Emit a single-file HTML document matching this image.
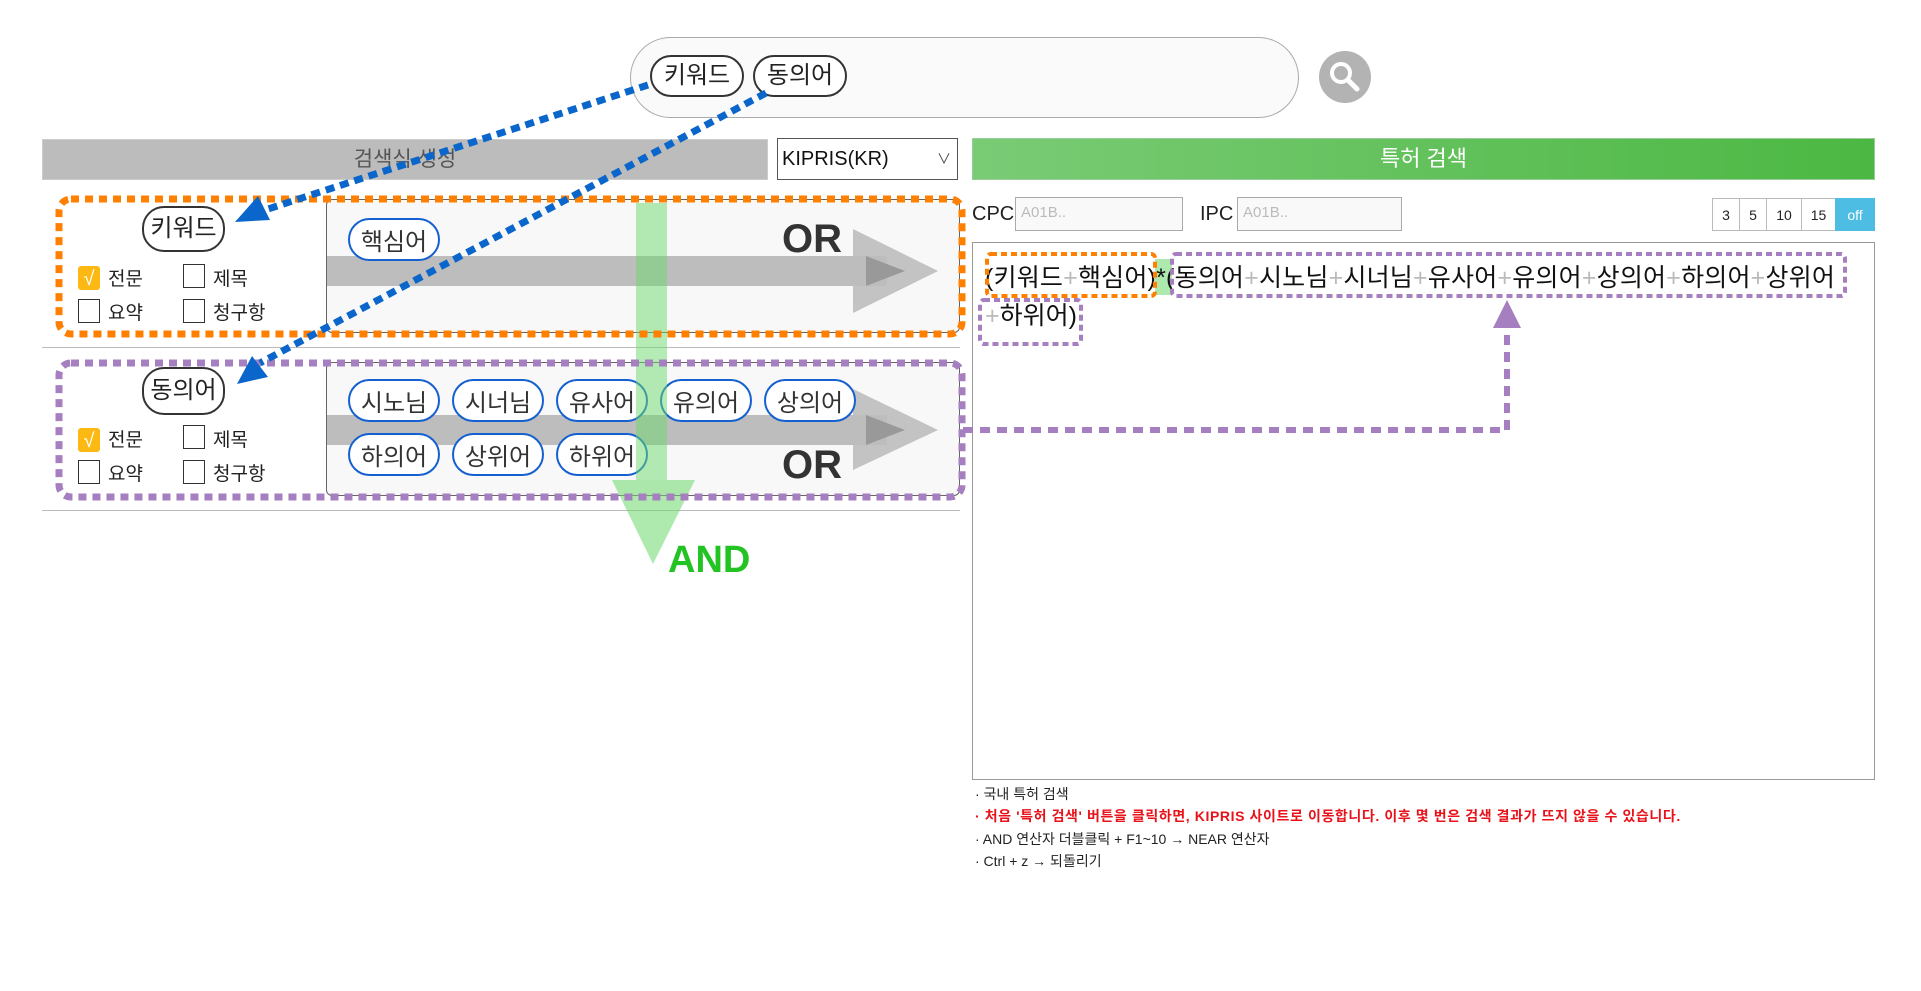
<!DOCTYPE html>
<html><head><meta charset="utf-8">
<style>
body{margin:0;width:1921px;height:991px;background:#fff;position:relative;overflow:hidden;font-family:"Liberation Sans","Noto Sans CJK KR",sans-serif;}
.a{position:absolute;box-sizing:border-box;}
.chip{position:absolute;box-sizing:border-box;border:2px solid #333;border-radius:22px;background:#fff;font-size:24px;line-height:1;display:flex;align-items:center;justify-content:center;color:#222;}
.bchip{position:absolute;box-sizing:border-box;border:2px solid #1560d0;border-radius:22px;background:#fff;font-size:24px;display:flex;align-items:center;justify-content:center;color:#333;width:92px;height:43px;}
.cb{position:absolute;width:22px;height:24px;border:1.5px solid #333;box-sizing:border-box;background:#fff;}
.cbc{position:absolute;width:22px;height:24px;background:#fdb913;border-radius:3px;color:#fff;font-size:20px;text-align:center;line-height:26px;}
.lbl{position:absolute;font-size:19px;color:#222;}
.sb{position:absolute;top:198px;height:33px;border:1px solid #bbb;box-sizing:border-box;font-size:14px;text-align:center;line-height:32px;background:#fff;color:#222;}
.note{position:absolute;left:975px;font-size:14px;color:#222;}
.pl{color:#bbb;}
</style></head><body>
<div class="a" style="left:630px;top:37px;width:669px;height:81px;border:1.5px solid #aaa;border-radius:41px;background:#fafafa"></div>
<div class="chip" style="left:650px;top:55px;width:94px;height:42px">키워드</div>
<div class="chip" style="left:753px;top:55px;width:94px;height:42px">동의어</div>
<svg class="a" style="left:1318px;top:50px" width="56" height="56"><circle cx="27" cy="27" r="26" fill="#b3b3b3"/><circle cx="23" cy="23" r="9" fill="none" stroke="#fff" stroke-width="4"/><line x1="30" y1="30" x2="39" y2="39" stroke="#fff" stroke-width="5" stroke-linecap="round"/></svg>

<div class="a" style="left:42px;top:139px;width:726px;height:41px;background:#bcbcbc;border:1px solid #ccc;text-align:center;line-height:40px;font-size:21px;color:#555">검색식 생성</div>
<div class="a" style="left:777px;top:138px;width:181px;height:42px;border:1.5px solid #555;font-size:20px;line-height:40px;padding-left:4px;color:#111">KIPRIS(KR)<span style="position:absolute;right:6px;top:0;font-size:14px;color:#444">∨</span></div>
<div class="a" style="left:972px;top:138px;width:903px;height:42px;background:linear-gradient(90deg,#7acb75,#4cb843);border:1px solid #9c9;text-align:center;line-height:40px;font-size:22px;color:#fff">특허 검색</div>

<div class="a" style="left:326px;top:199px;width:634px;height:134px;border:1.5px solid #666;border-radius:6px;background:#f8f8f8"></div>
<div class="a" style="left:42px;top:347px;width:918px;height:1px;background:#bbb"></div>
<div class="a" style="left:326px;top:362px;width:634px;height:134px;border:1.5px solid #666;border-radius:6px;background:#f8f8f8"></div>
<div class="a" style="left:42px;top:510px;width:918px;height:1px;background:#bbb"></div>

<svg class="a" style="left:0;top:0" width="1921" height="991">
 <rect x="327" y="256" width="560" height="30" fill="#bdbdbd"/>
 <polygon points="853,229 938,271 853,313" fill="#bdbdbd" opacity="0.9"/>
 <polygon points="866,256 905,271 866,286" fill="#999"/>
 <rect x="327" y="415" width="560" height="30" fill="#bdbdbd"/>
 <polygon points="853,389 938,430 853,470" fill="#bdbdbd" opacity="0.9"/>
 <polygon points="866,415 905,430 866,445" fill="#999"/>
 <text x="782" y="252" font-family="Liberation Sans" font-weight="bold" font-size="40" fill="#333">OR</text>
 <text x="782" y="478" font-family="Liberation Sans" font-weight="bold" font-size="40" fill="#333">OR</text>
</svg>

<div class="bchip" style="left:348px;top:218px">핵심어</div>
<div class="bchip" style="left:348px;top:379px">시노님</div>
<div class="bchip" style="left:452px;top:379px">시너님</div>
<div class="bchip" style="left:556px;top:379px">유사어</div>
<div class="bchip" style="left:660px;top:379px">유의어</div>
<div class="bchip" style="left:764px;top:379px">상의어</div>
<div class="bchip" style="left:348px;top:433px">하의어</div>
<div class="bchip" style="left:452px;top:433px">상위어</div>
<div class="bchip" style="left:556px;top:433px">하위어</div>

<div class="chip" style="left:142px;top:206px;width:83px;height:46px">키워드</div>
<div class="cbc" style="left:78px;top:266px">√</div><div class="lbl" style="left:108px;top:264px">전문</div>
<div class="cb" style="left:183px;top:264px"></div><div class="lbl" style="left:213px;top:264px">제목</div>
<div class="cb" style="left:78px;top:299px"></div><div class="lbl" style="left:108px;top:298px">요약</div>
<div class="cb" style="left:183px;top:299px"></div><div class="lbl" style="left:213px;top:298px">청구항</div>

<div class="chip" style="left:142px;top:367px;width:83px;height:48px">동의어</div>
<div class="cbc" style="left:78px;top:428px">√</div><div class="lbl" style="left:108px;top:425px">전문</div>
<div class="cb" style="left:183px;top:425px"></div><div class="lbl" style="left:213px;top:425px">제목</div>
<div class="cb" style="left:78px;top:460px"></div><div class="lbl" style="left:108px;top:459px">요약</div>
<div class="cb" style="left:183px;top:460px"></div><div class="lbl" style="left:213px;top:459px">청구항</div>

<div class="a" style="left:972px;top:203px;font-size:20px;color:#222">CPC</div>
<div class="a" style="left:1015px;top:197px;width:168px;height:34px;border:1.5px solid #aaa;background:#f9f9f9;font-size:15px;color:#bbb;padding:6px 5px">A01B..</div>
<div class="a" style="left:1200px;top:203px;font-size:20px;color:#222">IPC</div>
<div class="a" style="left:1237px;top:197px;width:165px;height:34px;border:1.5px solid #aaa;background:#f9f9f9;font-size:15px;color:#bbb;padding:6px 5px">A01B..</div>
<div class="sb" style="left:1712px;width:28px">3</div>
<div class="sb" style="left:1739px;width:28px">5</div>
<div class="sb" style="left:1766px;width:36px">10</div>
<div class="sb" style="left:1801px;width:35px">15</div>
<div class="sb" style="left:1835px;width:40px;background:#4dbde3;color:#fff;border-color:#4dbde3">off</div>
<div class="a" style="left:972px;top:242px;width:903px;height:538px;border:1.5px solid #999;background:#fff"></div>
<div class="a" style="left:1155px;top:259px;width:17px;height:36px;background:#aee9ad"></div>
<div class="a" style="left:985px;top:258px;font-size:25px;color:#111;white-space:nowrap;letter-spacing:0.2px">(키워드<span class="pl">+</span>핵심어)*(동의어<span class="pl">+</span>시노님<span class="pl">+</span>시너님<span class="pl">+</span>유사어<span class="pl">+</span>유의어<span class="pl">+</span>상의어<span class="pl">+</span>하의어<span class="pl">+</span>상위어</div>
<div class="a" style="left:985px;top:296px;font-size:25px;color:#111"><span class="pl">+</span>하위어)</div>

<div class="note" style="top:784px">· 국내 특허 검색</div>
<div class="note" style="top:806px;color:#e8121a;font-weight:bold;letter-spacing:0.6px">· 처음 '특허 검색' 버튼을 클릭하면, KIPRIS 사이트로 이동합니다. 이후 몇 번은 검색 결과가 뜨지 않을 수 있습니다.</div>
<div class="note" style="top:829px">· AND 연산자 더블클릭 + F1~10 → NEAR 연산자</div>
<div class="note" style="top:851px">· Ctrl + z → 되돌리기</div>

<svg class="a" style="left:0;top:0" width="1921" height="991">
 <rect x="636" y="203" width="31" height="277" fill="#6bd96b" opacity="0.5"/>
 <polygon points="612,480 695,480 653,564" fill="#6bd96b" opacity="0.55"/>
 <text x="668" y="572" font-family="Liberation Sans" font-weight="bold" font-size="38" fill="#22c322">AND</text>
 <rect x="59" y="199" width="903" height="135" rx="12" fill="none" stroke="#ff7f00" stroke-width="7" stroke-dasharray="8,6"/>
 <rect x="59" y="363" width="903" height="134" rx="12" fill="none" stroke="#a57fbf" stroke-width="7" stroke-dasharray="8,6"/>
 <rect x="987" y="254" width="168" height="42" rx="4" fill="none" stroke="#ff7f00" stroke-width="4" stroke-dasharray="6,4"/>
 <rect x="1172" y="254" width="673" height="42" rx="4" fill="none" stroke="#a57fbf" stroke-width="4" stroke-dasharray="6,4"/>
 <rect x="980" y="300" width="101" height="44" rx="4" fill="none" stroke="#a57fbf" stroke-width="4" stroke-dasharray="6,4"/>
 <polyline points="963,430 1507,430 1507,325" fill="none" stroke="#a57fbf" stroke-width="6" stroke-dasharray="10,7"/>
 <polygon points="1493,328 1521,328 1507,300" fill="#a57fbf"/>
 <line x1="648" y1="85" x2="265" y2="210" stroke="#0b66cc" stroke-width="7" stroke-dasharray="9,6"/>
 <polygon points="235,222 258,196 270,220" fill="#0b66cc"/>
 <line x1="766" y1="93" x2="260" y2="363" stroke="#0b66cc" stroke-width="7" stroke-dasharray="9,6"/>
 <polygon points="237,384 252,356 268,377" fill="#0b66cc"/>
</svg>
</body></html>
